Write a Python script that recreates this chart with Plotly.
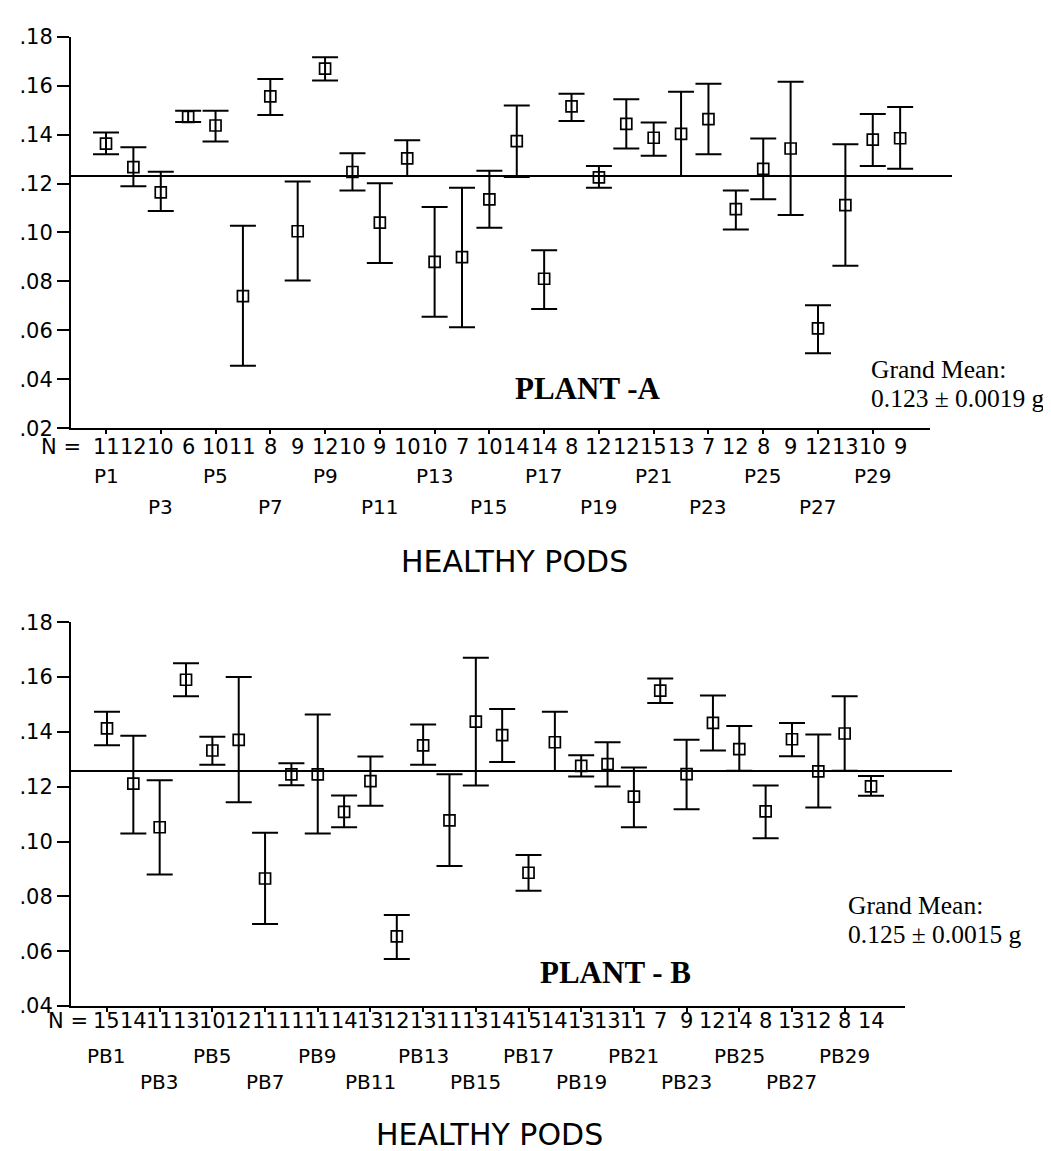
import plotly.graph_objects as go

# ---------------- data ----------------
positions = list(range(1, 31))

labels_a = ["P%d" % i for i in positions]
n_a = [11, 12, 10, 6, 10, 11, 8, 9, 12, 10, 9, 10, 10, 7, 10,
       14, 14, 8, 12, 12, 15, 13, 7, 12, 8, 9, 12, 13, 10, 9]
mean_a = [.1363, .1267, .1164, .1472, .1437, .0740, .1556, .1005, .1669, .1247,
          .1040, .1303, .0880, .0899, .1135, .1373, .0811, .1515, .1225, .1444,
          .1387, .1403, .1463, .1095, .1260, .1343, .0608, .1112, .1379, .1385]
upper_a = [.1408, .1348, .1248, .1497, .1497, .1027, .1627, .1208, .1716, .1324,
           .1201, .1377, .1104, .1183, .1252, .1519, .0927, .1567, .1272, .1544,
           .1449, .1575, .1608, .1172, .1384, .1616, .0703, .1360, .1484, .1513]
lower_a = [.1320, .1189, .1088, .1451, .1372, .0456, .1480, .0804, .1621, .1172,
           .0875, .1231, .0656, .0613, .1019, .1227, .0687, .1455, .1183, .1343,
           .1313, .1231, .1320, .1012, .1136, .1071, .0507, .0864, .1272, .1260]
grand_mean_a = 0.1231

labels_b = ["PB%d" % i for i in positions]
n_b = [15, 14, 11, 13, 10, 12, 11, 11, 11, 14, 13, 12, 13, 11, 13,
       14, 15, 14, 13, 13, 11, 7, 9, 12, 14, 8, 13, 12, 8, 14]
mean_b = [.1413, .1211, .1052, .1590, .1332, .1371, .0865, .1245, .1245, .1108,
          .1220, .0654, .1351, .1077, .1437, .1388, .0886, .1362, .1276, .1282,
          .1164, .1550, .1246, .1433, .1337, .1110, .1373, .1256, .1394, .1201]
upper_b = [.1473, .1386, .1223, .1650, .1382, .1600, .1032, .1285, .1463, .1168,
           .1310, .0732, .1427, .1245, .1670, .1483, .0951, .1473, .1315, .1362,
           .1270, .1595, .1371, .1533, .1421, .1204, .1432, .1390, .1530, .1239]
lower_b = [.1351, .1029, .0880, .1530, .1280, .1143, .0699, .1205, .1029, .1052,
           .1130, .0571, .1280, .0911, .1204, .1290, .0820, .1257, .1237, .1201,
           .1052, .1505, .1118, .1332, .1258, .1012, .1311, .1124, .1258, .1167]
grand_mean_b = 0.1257

yticks_a = [.02, .04, .06, .08, .10, .12, .14, .16, .18]
yticklabels_a = [".02", ".04", ".06", ".08", ".10", ".12", ".14", ".16", ".18"]
yticks_b = [.04, .06, .08, .10, .12, .14, .16, .18]
yticklabels_b = [".04", ".06", ".08", ".10", ".12", ".14", ".16", ".18"]

title_a = "PLANT -A"
title_b = "PLANT - B"
gm_text_a = ["Grand Mean:", "0.123 \u00b1 0.0019 g"]
gm_text_b = ["Grand Mean:", "0.125 \u00b1 0.0015 g"]
x_title = "HEALTHY PODS"

# ---------------- layout helpers ----------------
W, H = 1051, 1151
def fx(px):
    return px / W
def fy(px):
    return 1 - px / H

SANS = "DejaVu Sans"
SERIF = "Liberation Serif"
BLACK = "#000000"

fig = go.Figure()

def add_panel(xa, ya, means, ups, lows):
    fig.add_trace(go.Scatter(
        x=positions, y=means, xaxis=xa, yaxis=ya, mode="markers",
        marker=dict(symbol="square-open", size=11, color=BLACK,
                    line=dict(width=1.7, color=BLACK)),
        error_y=dict(type="data", symmetric=False,
                     array=[u - m for u, m in zip(ups, means)],
                     arrayminus=[m - l for m, l in zip(means, lows)],
                     color=BLACK, thickness=2, width=13),
        showlegend=False, hoverinfo="skip"))

add_panel("x", "y", mean_a, upper_a, lower_a)
add_panel("x2", "y2", mean_b, upper_b, lower_b)

odd_positions = [p for p in positions if p % 2 == 1]

axis_common = dict(showgrid=False, zeroline=False, showline=True,
                   linecolor=BLACK, linewidth=2, mirror=False)

fig.update_layout(
    width=W, height=H, autosize=False,
    margin=dict(l=0, r=0, t=0, b=0),
    paper_bgcolor="white", plot_bgcolor="white",
    xaxis=dict(domain=[fx(63), fx(922)], range=[-0.278, 31.09],
               tickvals=odd_positions, ticks="outside", ticklen=4, tickwidth=2,
               tickcolor=BLACK, showticklabels=False, anchor="y", **axis_common),
    yaxis=dict(domain=[fy(417), fy(17)], range=[0.02, 0.18],
               tickvals=yticks_a, ticktext=yticklabels_a, ticks="outside",
               ticklen=12, tickwidth=2, tickcolor=BLACK, anchor="x",
               tickfont=dict(family=SANS, size=21, color=BLACK), **axis_common),
    xaxis2=dict(domain=[fx(63), fx(897)], range=[-0.366, 31.29],
                tickvals=odd_positions, ticks="outside", ticklen=4, tickwidth=2,
                tickcolor=BLACK, showticklabels=False, anchor="y2", **axis_common),
    yaxis2=dict(domain=[fy(1007), fy(615)], range=[0.04, 0.18],
                tickvals=yticks_b, ticktext=yticklabels_b, ticks="outside",
                ticklen=12, tickwidth=2, tickcolor=BLACK, anchor="x2",
                tickfont=dict(family=SANS, size=21, color=BLACK), **axis_common),
)

# grand mean lines
fig.add_shape(type="line", xref="x domain", yref="y", x0=0, x1=881 / 859,
              y0=grand_mean_a, y1=grand_mean_a, line=dict(color=BLACK, width=2))
fig.add_shape(type="line", xref="x2 domain", yref="y2", x0=0, x1=881 / 834,
              y0=grand_mean_b, y1=grand_mean_b, line=dict(color=BLACK, width=2))

ann = []
def text(x, y, s, size, family=SANS, xanchor="center", xref="paper", bold=False):
    ann.append(dict(x=x, y=y, xref=xref, yref="paper", text=("<b>%s</b>" % s) if bold else s,
                    showarrow=False, xanchor=xanchor, yanchor="middle",
                    font=dict(family=family, size=size, color=BLACK)))

def category_rows(xref, ns, labels, y_n, y_r1, y_r2, nx):
    text(fx(nx), fy(y_n), "N =", 21, xanchor="right")
    for p, n, lab in zip(positions, ns, labels):
        text(p, fy(y_n), str(n), 21, xref=xref)
        if p % 4 == 1:
            text(p, fy(y_r1), lab, 20, xref=xref)
        elif p % 4 == 3:
            text(p, fy(y_r2), lab, 20, xref=xref)

category_rows("x", n_a, labels_a, 436, 466, 497, 75)
category_rows("x2", n_b, labels_b, 1022, 1058, 1085, 82)

# titles & grand-mean notes
text(fx(580), fy(376), title_a, 31, family=SERIF, bold=True)
text(fx(607), fy(973), title_b, 31, family=SERIF, bold=True)
text(fx(861), fy(357), gm_text_a[0], 25.5, family=SERIF, xanchor="left")
text(fx(861), fy(387), gm_text_a[1], 25.5, family=SERIF, xanchor="left")
text(fx(838), fy(904), gm_text_b[0], 25.5, family=SERIF, xanchor="left")
text(fx(838), fy(934), gm_text_b[1], 25.5, family=SERIF, xanchor="left")
text(fx(506), fy(553), x_title, 30)
text(fx(481), fy(1138), x_title, 30)

fig.update_layout(annotations=ann)
fig.write_html("out.html")
